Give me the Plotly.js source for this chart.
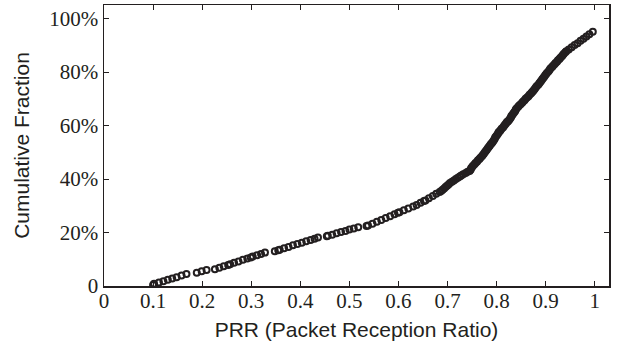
<!DOCTYPE html>
<html>
<head>
<meta charset="utf-8">
<script src="https://cdn.plot.ly/plotly-3.0.1.min.js"></script>
<style>html,body{margin:0;padding:0;background:#fff;}#chart{width:620px;height:351px;}</style>
</head>
<body>
<div id="chart"></div>
<script>
// PRR value of each link (sorted) and its cumulative fraction (%)
const prr = [
  0.100,0.102,0.112,0.121,0.130,0.139,0.148,0.158,0.168,
  0.189,0.199,0.209,
  0.226,0.235,0.244,0.253,0.257,0.265,0.274,0.283,0.292,0.299,0.303,0.312,0.320,0.328,
  0.348,0.355,0.358,0.367,0.376,0.385,0.394,0.403,0.412,0.421,0.429,0.436,
  0.454,0.456,0.465,0.474,0.483,0.492,0.500,0.509,0.518,
  0.535,0.538,0.547,0.556,0.565,0.574,0.583,0.592,0.599,0.602,0.611,0.620,0.630,
  0.637,0.645,0.652,0.655,0.662,0.670,0.677,0.684,
  0.687,0.690,0.693,0.696,0.699,0.702,0.705,
  0.709,0.713,0.717,0.721,0.725,0.728,
  0.732,0.737,0.741,0.745,
  0.747,0.748,0.750,0.752,
  0.755,0.757,0.760,0.762,0.765,0.767,0.770,0.772,
  0.774,0.776,0.778,0.780,0.782,0.784,0.786,0.788,0.790,
  0.792,0.794,0.796,0.797,0.799,0.801,0.803,0.804,0.806,
  0.808,0.810,0.813,0.815,0.817,0.819,0.821,0.823,
  0.825,0.827,0.829,0.830,0.832,0.834,0.836,0.838,0.839,0.841,
  0.844,0.846,0.849,0.852,0.854,0.857,0.859,0.862,0.865,0.867,0.870,0.872,0.874,
  0.876,0.878,0.880,0.882,0.885,0.887,0.889,0.891,0.893,0.895,0.897,0.899,0.901,0.903,0.906,0.908,
  0.910,0.913,0.915,0.918,0.920,0.923,0.925,0.928,0.930,0.933,0.935,0.937,0.940,0.942,
  0.947,0.953,0.959,0.965,0.971,0.977,0.983,0.989,0.996
];
const cumPct = [
  0.4,0.8,1.3,1.8,2.3,2.8,3.3,3.9,4.5,
  5.0,5.5,6.0,
  6.3,6.8,7.4,7.9,8.1,8.7,9.2,9.8,10.3,10.7,11.0,11.5,12.0,12.5,
  13.0,13.4,13.6,14.1,14.6,15.2,15.7,16.2,16.7,17.2,17.7,18.1,
  18.6,18.8,19.2,19.7,20.2,20.6,21.1,21.5,22.0,
  22.4,22.6,23.3,24.0,24.7,25.4,26.1,26.8,27.4,27.6,28.3,29.0,29.7,
  30.3,31.1,31.8,32.0,32.8,33.7,34.5,35.2,
  35.5,36.0,36.5,37.0,37.5,38.0,38.5,
  39.0,39.5,40.0,40.5,41.0,41.3,
  41.8,42.3,42.7,43.0,
  43.5,44.0,44.5,45.0,
  45.5,46.0,46.5,47.0,47.5,48.0,48.5,49.0,
  49.5,50.0,50.5,51.0,51.5,52.0,52.5,53.0,53.4,
  53.9,54.4,55.0,55.5,56.0,56.5,57.0,57.5,57.8,
  58.3,58.8,59.3,59.8,60.3,60.8,61.3,61.5,
  62.0,62.5,63.0,63.5,64.0,64.5,65.0,65.5,66.0,66.5,
  67.0,67.5,68.0,68.5,69.0,69.5,70.0,70.5,71.0,71.5,72.0,72.5,72.8,
  73.3,73.8,74.3,74.8,75.3,75.8,76.3,76.8,77.3,77.8,78.3,78.8,79.3,79.8,80.3,80.9,
  81.4,81.9,82.4,82.9,83.4,83.9,84.4,84.9,85.4,85.9,86.4,86.9,87.4,87.8,
  88.5,89.3,90.1,90.8,91.7,92.5,93.3,94.2,95.1
];
const xTickVals = [0,0.1,0.2,0.3,0.4,0.5,0.6,0.7,0.8,0.9,1];
const xTickText = ['0','0.1','0.2','0.3','0.4','0.5','0.6','0.7','0.8','0.9','1'];
const yTickVals = [0,20,40,60,80,100];
const yTickText = ['0','20%','40%','60%','80%','100%'];

const ink = '#231f20';
const tickFont = {family: 'Liberation Serif, Times New Roman, serif', size: 21, color: ink};
const titleFont = {family: 'Liberation Sans, Arial, sans-serif', size: 21, color: ink};

const trace = {
  x: prr, y: cumPct, type: 'scatter', mode: 'markers',
  marker: {symbol: 'circle-open', size: 6, color: ink, line: {width: 2, color: ink}},
  hoverinfo: 'x+y'
};

const layout = {
  width: 620, height: 351,
  margin: {l: 104, r: 11, t: 5, b: 65},
  paper_bgcolor: '#fff', plot_bgcolor: '#fff',
  showlegend: false,
  xaxis: {
    range: [0, 1.029], tickvals: xTickVals, ticktext: xTickText,
    ticks: 'inside', ticklen: 5, tickwidth: 1, tickcolor: ink,
    showline: true, linecolor: ink, linewidth: 1.5, mirror: 'ticks',
    showgrid: false, zeroline: false, tickfont: tickFont, ticklabelstandoff: -5,
    title: {text: 'PRR (Packet Reception Ratio)', font: titleFont, standoff: 10}
  },
  yaxis: {
    range: [0, 105.1], tickvals: yTickVals, ticktext: yTickText,
    ticks: 'inside', ticklen: 5, tickwidth: 1, tickcolor: ink,
    showline: true, linecolor: ink, linewidth: 1.5, mirror: 'ticks',
    showgrid: false, zeroline: false, tickfont: tickFont,
    title: {text: 'Cumulative Fraction', font: titleFont, standoff: 14}
  }
};

Plotly.newPlot('chart', [trace], layout, {displayModeBar: false, staticPlot: true});
</script>
</body>
</html>
